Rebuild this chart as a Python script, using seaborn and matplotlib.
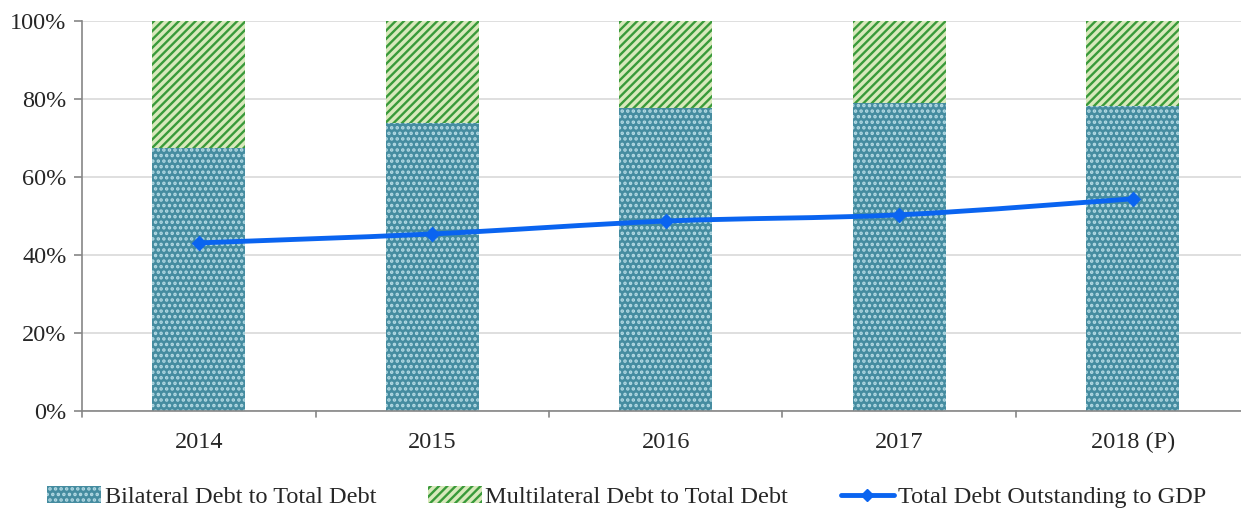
import matplotlib
matplotlib.use("Agg")
import matplotlib.pyplot as plt
import seaborn as sns
import numpy as np
import pandas as pd
from matplotlib.path import Path
from matplotlib.patches import PathPatch, Patch
from matplotlib.lines import Line2D

years = ["2014", "2015", "2016", "2017", "2018 (P)"]
bilateral = [67.4, 73.8, 77.7, 79.0, 78.2]
multilateral = [32.6, 26.2, 22.3, 21.0, 21.8]
debt_gdp = [43.1, 45.4, 48.7, 50.3, 54.4]

sns.set_theme(style="white")
plt.rcParams['font.family'] = ['Liberation Serif', 'DejaVu Serif']
plt.rcParams['hatch.linewidth'] = 1.7

FS = 17.5

fig = plt.figure(figsize=(12.41, 5.11), dpi=100)
ax = fig.add_axes([82/1241, 1 - 411/511, (1241-82)/1241, 390/511])

df = pd.DataFrame({"year": years, "bil": bilateral, "tot": [b + m for b, m in zip(bilateral, multilateral)]})

teal = "#458CA0"
green_face = "#D9E9BC"
green_hatch = "#3A9A3A"
dot_col = "#B4DAE4"
sns.barplot(data=df, x="year", y="tot", color=green_face, width=0.4, ax=ax,
            saturation=1, edgecolor="none", linewidth=0)
n = len(years)
for p in ax.patches[:n]:
    p.set_hatch("////")
    p.set_edgecolor(green_hatch)
    p.set_linewidth(0)
sns.barplot(data=df, x="year", y="bil", color=teal, width=0.4, ax=ax,
            saturation=1, edgecolor="none", linewidth=0)
for p in ax.patches[n:]:
    p.set_hatch("...")
    p.set_edgecolor(dot_col)
    p.set_linewidth(0)

# smoothed line (Catmull-Rom -> Bezier)
xs = np.arange(n, dtype=float)
ys = np.array(debt_gdp, dtype=float)
verts = [(xs[0], ys[0])]
codes = [Path.MOVETO]
for i in range(n - 1):
    p0 = (xs[max(i - 1, 0)], ys[max(i - 1, 0)])
    p1 = (xs[i], ys[i])
    p2 = (xs[i + 1], ys[i + 1])
    p3 = (xs[min(i + 2, n - 1)], ys[min(i + 2, n - 1)])
    c1 = (p1[0] + (p2[0] - p0[0]) / 6, p1[1] + (p2[1] - p0[1]) / 6)
    c2 = (p2[0] - (p3[0] - p1[0]) / 6, p2[1] - (p3[1] - p1[1]) / 6)
    verts += [c1, c2, p2]
    codes += [Path.CURVE4] * 3
line_color = "#0A64F0"
ax.add_patch(PathPatch(Path(verts, codes), facecolor="none", edgecolor=line_color, lw=3.5, zorder=5))
sns.scatterplot(x=xs, y=ys, marker="D", s=55, color=line_color, edgecolor=line_color, ax=ax, zorder=6)

ax.set_ylim(0, 100)
ax.set_xlim(-0.5, 4.5 - 8.5 / 233.5)
ax.set_yticks(np.arange(0, 101, 20))
ax.set_yticklabels([f"{v}%" for v in range(0, 101, 20)], fontsize=FS)
ax.set_xticks(range(n))
ax.set_xticklabels(years, fontsize=FS)
ax.set_xlabel("")
ax.set_ylabel("")
ax.grid(axis="y", color="#D9D9D9", lw=1.2)
ax.set_axisbelow(True)
for s in ["top", "right"]:
    ax.spines[s].set_visible(False)
for s in ["left", "bottom"]:
    ax.spines[s].set_color("#868686")
    ax.spines[s].set_linewidth(1.2)
ax.tick_params(axis="y", length=6, color="#868686", width=1.2, direction="out", left=True, pad=5)
ax.tick_params(axis="x", length=0, pad=15)
for b in np.arange(-0.5, n, 1.0):
    ax.plot([b, b], [0, -1.6], color="#868686", lw=1.2, clip_on=False, transform=ax.transData)

handles = [
    Patch(facecolor=teal, hatch="...", edgecolor=dot_col, linewidth=0, label="Bilateral Debt to Total Debt"),
    Patch(facecolor=green_face, hatch="////", edgecolor=green_hatch, linewidth=0, label="Multilateral Debt to Total Debt"),
    Line2D([0], [0], color=line_color, lw=3.5, marker="D", markersize=6, label="Total Debt Outstanding to GDP"),
]
fig.legend(handles=handles, loc="center", bbox_to_anchor=(0.505, 1 - 497/511), ncol=3, frameon=False,
           fontsize=FS, handlelength=2.2, handleheight=0.7, handletextpad=0.15, columnspacing=2.15,
           borderaxespad=0, borderpad=0)

fig.savefig("out.png", dpi=100)
